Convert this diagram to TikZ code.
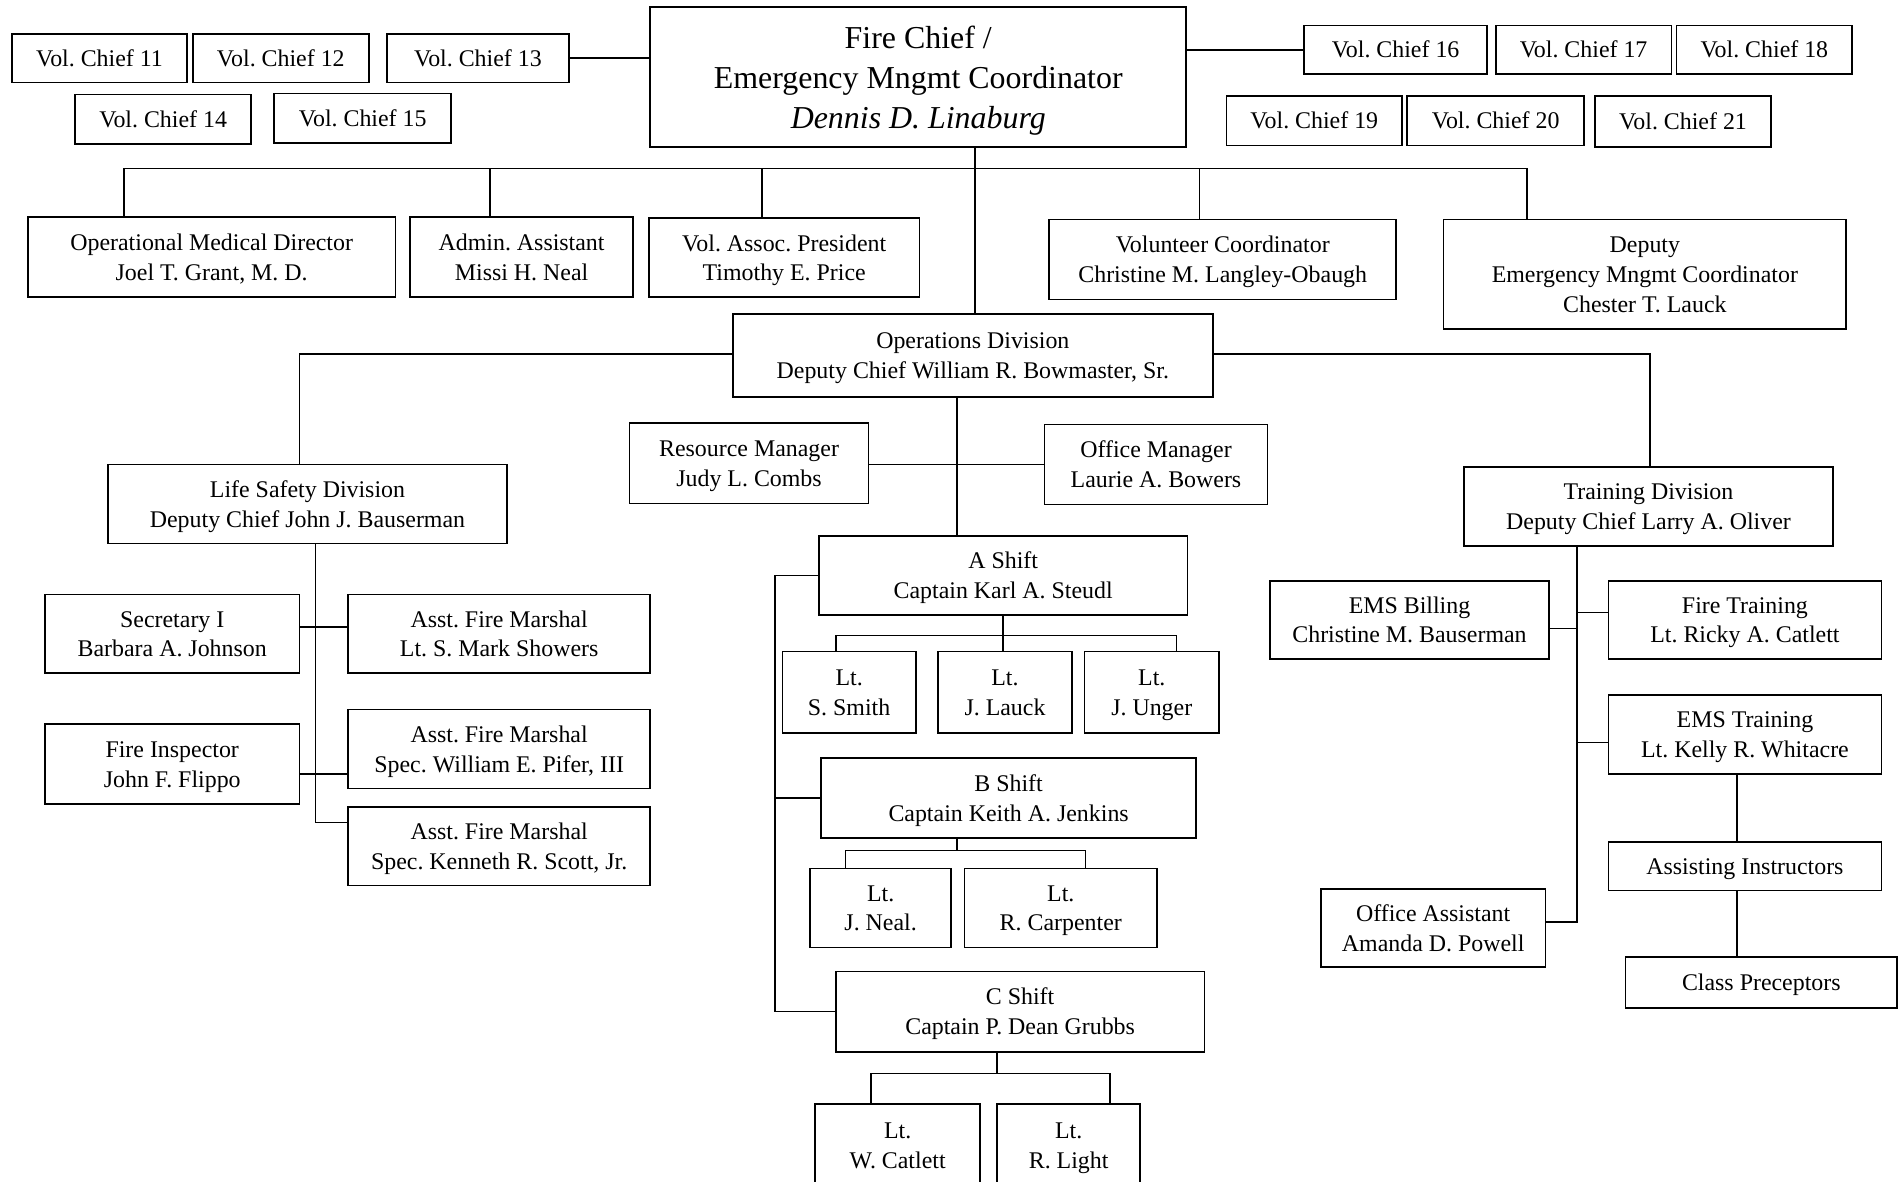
\documentclass[tikz,border=0pt]{standalone}
\usepackage{fontspec}
\setmainfont{Liberation Serif}
\newcommand\bx[6]{\node[obox, minimum width={(#4-#2)*1pt}, minimum height={(#5-#3)*1pt}] (#1) at ({(#2+#4)/2},{(#3+#5)/2}) {\rule{0pt}{18pt}#6\rule[-4.5pt]{0pt}{0pt}};}
\begin{document}
\frenchspacing
\begin{tikzpicture}[x=1pt,y=-1pt,
  obox/.style={draw=black, line width=1.4pt, inner sep=0pt, align=center, font=\fontsize{19.7}{24.5}\selectfont\frenchspacing},
  conn/.style={draw=black, line width=1.3pt}]
\useasboundingbox (0,0) rectangle (1568,974);
\clip (0,0) rectangle (1568,974);
\fill[white] (0,0) rectangle (1568,974);
% top vol chiefs
\bx{vc11}{10}{28}{154}{68}{Vol. Chief 11}
\bx{vc12}{159}{28}{304}{68}{Vol. Chief 12}
\bx{vc13}{319}{28}{469}{68}{Vol. Chief 13}
\bx{vc14}{62}{78}{207}{119}{Vol. Chief 14}
\bx{vc15}{226}{77}{372}{118}{Vol. Chief 15}
\node[obox, minimum width=442pt, minimum height=115pt, font=\fontsize{26.3}{33}\selectfont\frenchspacing] (chief) at (757,63.5) {\rule{0pt}{25pt}Fire Chief /\\Emergency Mngmt Coordinator\\\textit{Dennis D. Linaburg}\rule[-6pt]{0pt}{0pt}};
\bx{vc16}{1075}{21}{1226}{61}{Vol. Chief 16}
\bx{vc17}{1233}{21}{1378}{61}{Vol. Chief 17}
\bx{vc18}{1382}{21}{1527}{61}{Vol. Chief 18}
\bx{vc19}{1011}{79}{1156}{120}{Vol. Chief 19}
\bx{vc20}{1160}{79}{1306}{120}{Vol. Chief 20}
\bx{vc21}{1315}{79}{1460}{121}{Vol. Chief 21}
% second row
\bx{opmed}{23}{179}{326}{245}{Operational Medical Director\\Joel T. Grant, M. D.}
\bx{admin}{338}{179}{522}{245}{Admin. Assistant\\Missi H. Neal}
\bx{assoc}{535}{180}{758}{245}{Vol. Assoc. President\\Timothy E. Price}
\bx{volc}{865}{181}{1151}{247}{Volunteer Coordinator\\Christine M. Langley-Obaugh}
\bx{depemc}{1190}{181}{1522}{271}{Deputy\\Emergency Mngmt Coordinator\\Chester T. Lauck}
% divisions
\bx{ops}{604}{259}{1000}{327}{Operations Division\\Deputy Chief William R. Bowmaster, Sr.}
\bx{life}{89}{383}{418}{448}{Life Safety Division\\Deputy Chief John J. Bauserman}
\bx{train}{1207}{385}{1511}{450}{Training Division\\Deputy Chief Larry A. Oliver}
% life safety
\bx{sec}{37}{490}{247}{555}{Secretary I\\Barbara A. Johnson}
\bx{afma}{287}{490}{536}{555}{Asst. Fire Marshal\\Lt. S. Mark Showers}
\bx{insp}{37}{597}{247}{663}{Fire Inspector\\John F. Flippo}
\bx{afmb}{287}{585}{536}{650}{Asst. Fire Marshal\\Spec. William E. Pifer, III}
\bx{afmc}{287}{665}{536}{730}{Asst. Fire Marshal\\Spec. Kenneth R. Scott, Jr.}
% operations
\bx{res}{519}{349}{716}{415}{Resource Manager\\Judy L. Combs}
\bx{off}{861}{350}{1045}{416}{Office Manager\\Laurie A. Bowers}
\bx{ash}{675}{442}{979}{507}{A Shift\\Captain Karl A. Steudl}
\bx{smith}{645}{537}{755}{604}{Lt.\\S. Smith}
\bx{lauck}{773}{537}{884}{604}{Lt.\\J. Lauck}
\bx{unger}{894}{537}{1005}{604}{Lt.\\J. Unger}
\bx{bsh}{677}{625}{986}{691}{B Shift\\Captain Keith A. Jenkins}
\bx{neal}{668}{716}{784}{781}{Lt.\\J. Neal.}
\bx{carp}{795}{716}{954}{781}{Lt.\\R. Carpenter}
\bx{csh}{689}{801}{993}{867}{C Shift\\Captain P. Dean Grubbs}
\bx{wcat}{672}{910}{808}{978}{Lt.\\W. Catlett}
\bx{light}{822}{910}{940}{978}{Lt.\\R. Light}
% training
\bx{bill}{1047}{479}{1277}{543}{EMS Billing\\Christine M. Bauserman}
\bx{fire}{1326}{479}{1551}{543}{Fire Training\\Lt. Ricky A. Catlett}
\bx{emst}{1326}{573}{1551}{638}{EMS Training\\Lt. Kelly R. Whitacre}
\bx{assist}{1326}{694}{1551}{734}{Assisting Instructors}
\bx{class}{1340}{789}{1564}{831}{Class Preceptors}
\bx{offa}{1089}{733}{1274}{797}{Office Assistant\\Amanda D. Powell}
% coordinates
\coordinate (cv) at (804,139);
\coordinate (tb1) at (102,139);
\coordinate (tb2) at (404,139);
\coordinate (tb3) at (628,139);
\coordinate (tb4) at (989,139);
\coordinate (tb5) at (1259,139);
\coordinate (ol) at (247,292);
\coordinate (orr) at (1360,292);
\coordinate (lvend) at (260,678);
\coordinate (l1) at (260,517);
\coordinate (l2) at (260,638);
\coordinate (ov) at (789,383);
\coordinate (br) at (639,474);
\coordinate (ab) at (827,524);
\coordinate (ab1) at (689,524);
\coordinate (ab2) at (970,524);
\coordinate (bb) at (789,701);
\coordinate (bb1) at (697,701);
\coordinate (bb2) at (895,701);
\coordinate (cb) at (822,885);
\coordinate (cb1) at (718,885);
\coordinate (cb2) at (915,885);
\coordinate (tv) at (1300,760);
\coordinate (t1) at (1300,518);
\coordinate (t2) at (1300,505);
\coordinate (t3) at (1300,612);
\coordinate (ev) at (1432,700);
% connectors
\draw[conn] (vc13.east) -- (vc13.east -| chief.west);
\draw[conn] (vc16.west) -- (vc16.west -| chief.east);
\draw[conn] (chief.south -| cv) -- (ops.north -| cv);
\draw[conn] (opmed.north -| tb1) -- (tb1) -- (tb5) -- (depemc.north -| tb5);
\draw[conn] (tb2) -- (admin.north -| tb2);
\draw[conn] (tb3) -- (assoc.north -| tb3);
\draw[conn] (tb4) -- (volc.north -| tb4);
\draw[conn] (ops.west |- ol) -- (ol) -- (life.north -| ol);
\draw[conn] (ops.east |- orr) -- (orr) -- (train.north -| orr);
\draw[conn] (life.south -| lvend) -- (lvend) -- (lvend -| afmc.west);
\draw[conn] (l1 -| sec.east) -- (l1 -| afma.west);
\draw[conn] (l2 -| insp.east) -- (l2 -| afmb.west);
\draw[conn] (ops.south -| ov) -- (ash.north -| ov);
\draw[conn] (ov -| res.east) -- (ov -| off.west);
\draw[conn] (ash.west) -- (ash.west -| br) -- (csh.west -| br) -- (csh.west);
\draw[conn] (bsh.west -| br) -- (bsh.west);
\draw[conn] (ash.south -| ab) -- (ab);
\draw[conn] (smith.north -| ab1) -- (ab1) -- (ab2) -- (unger.north -| ab2);
\draw[conn] (ab) -- (lauck.north -| ab);
\draw[conn] (bsh.south -| bb) -- (bb);
\draw[conn] (neal.north -| bb1) -- (bb1) -- (bb2) -- (carp.north -| bb2);
\draw[conn] (csh.south -| cb) -- (cb);
\draw[conn] (wcat.north -| cb1) -- (cb1) -- (cb2) -- (light.north -| cb2);
\draw[conn] (train.south -| tv) -- (tv) -- (tv -| offa.east);
\draw[conn] (t1 -| bill.east) -- (t1);
\draw[conn] (t2) -- (t2 -| fire.west);
\draw[conn] (t3) -- (t3 -| emst.west);
\draw[conn] (emst.south -| ev) -- (assist.north -| ev);
\draw[conn] (assist.south -| ev) -- (class.north -| ev);
\end{tikzpicture}
\end{document}
